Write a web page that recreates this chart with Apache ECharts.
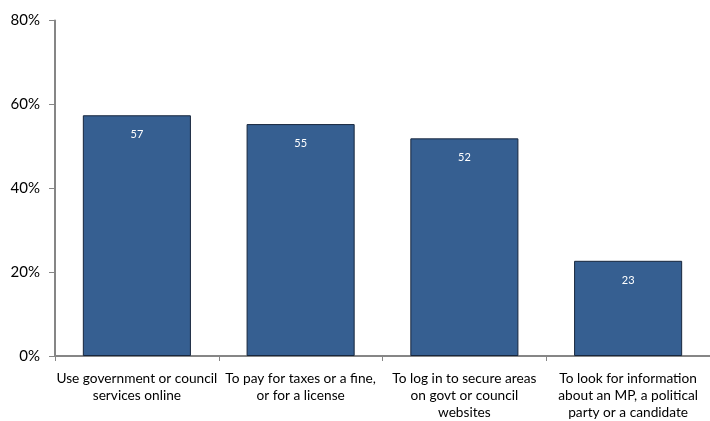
<!DOCTYPE html>
<html><head><meta charset="utf-8">
<script src="https://cdn.jsdelivr.net/npm/echarts@6/dist/echarts.min.js"></script>
<style>html,body{margin:0;padding:0;background:#fff}#c{width:710px;height:421px}</style>
</head><body><div id="c"></div>
<script>
const categories = [
  "Use government or council\nservices online",
  "To pay for taxes or a fine,\nor for a license",
  "To log in to secure areas\non govt or council\nwebsites",
  "To look for information\nabout an MP, a political\nparty or a candidate"
];
const values = [57.4, 55.3, 51.9, 22.7];
const yTicks = [0, 20, 40, 60, 80];

const chart = echarts.init(document.getElementById('c'));
chart.setOption({
  animation: false,
  grid: {left: 55, right: -4, top: 20.5, bottom: 62.5, containLabel: false},
  xAxis: {
    type: 'category', data: categories,
    axisLine: {lineStyle: {color: '#868686', width: 2}},
    axisTick: {show: true, length: 5, alignWithLabel: false, lineStyle: {color: '#868686'}},
    axisLabel: {color: '#000', fontFamily: 'Lato', fontSize: 13.7, lineHeight: 17, margin: 14, interval: 0}
  },
  yAxis: {
    type: 'value', min: yTicks[0], max: yTicks[yTicks.length-1], interval: 20,
    axisLine: {show: true, lineStyle: {color: '#868686', width: 2}},
    axisTick: {show: true, length: 6, lineStyle: {color: '#868686'}},
    splitLine: {show: false},
    axisLabel: {color: '#000', fontFamily: 'Lato', fontSize: 15, margin: 15, formatter: v => v + '%'}
  },
  series: [{
    type: 'bar', data: values, barWidth: '66%',
    itemStyle: {color: '#365F91', borderColor: '#17263d', borderWidth: 1},
    label: {show: true, position: 'insideTop', distance: 14, color: '#fff', fontFamily: 'Lato', fontSize: 11,
      formatter: p => Math.round(p.value)}
  }]
});
</script></body></html>
